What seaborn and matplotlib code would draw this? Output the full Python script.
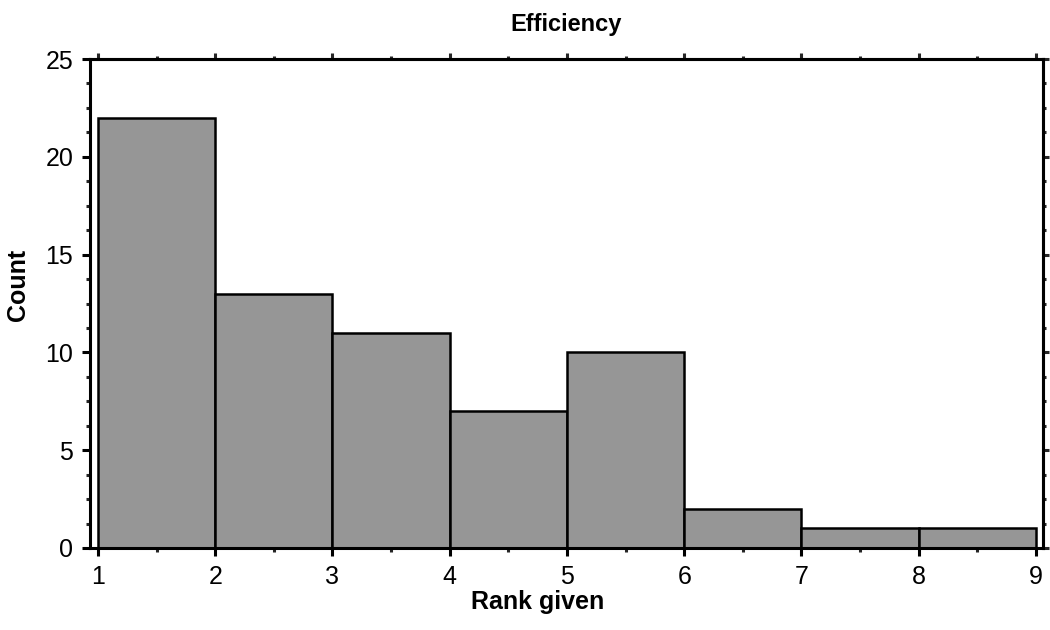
import numpy as np
import pandas as pd
import matplotlib
matplotlib.use("Agg")
import matplotlib.pyplot as plt
import seaborn as sns
from matplotlib.ticker import MultipleLocator

bin_starts = [1, 2, 3, 4, 5, 6, 7, 8]
counts = [22, 13, 11, 7, 10, 2, 1, 1]
bin_edges = [1, 2, 3, 4, 5, 6, 7, 8, 9]
x_ticks = [1, 2, 3, 4, 5, 6, 7, 8, 9]
y_ticks = [0, 5, 10, 15, 20, 25]

sns.set_style("ticks")
plt.rcParams['font.family'] = ['Liberation Sans', 'DejaVu Sans']
plt.rcParams['text.color'] = 'black'
plt.rcParams['axes.labelcolor'] = 'black'

df = pd.DataFrame({"rank": bin_starts, "count": counts})

fig = plt.figure(figsize=(10.5, 6.3), dpi=100)
ax = fig.add_axes([0.0857, 0.1302, 0.9076, 0.7761])

sns.histplot(data=df, x="rank", weights="count", bins=bin_edges, ax=ax,
             color="#969696", edgecolor="black", linewidth=1.8, alpha=1.0)

ax.set_xlim(0.932, 9.06)
ax.set_ylim(0, 25)
ax.set_xticks(x_ticks)
ax.set_yticks(y_ticks)
ax.xaxis.set_minor_locator(MultipleLocator(0.5))
ax.yaxis.set_minor_locator(MultipleLocator(1.25))

for s in ax.spines.values():
    s.set_visible(True)
    s.set_linewidth(2.2)
    s.set_color("black")

ax.tick_params(axis="both", which="major", direction="out", length=6, width=2.2,
               labelsize=18, colors="black", pad=6)
ax.tick_params(axis="both", which="minor", direction="out", length=3, width=2.2)

# top and right ticks (shorter, unlabeled)
secx = ax.secondary_xaxis("top")
secx.set_xticks(x_ticks)
secx.xaxis.set_minor_locator(MultipleLocator(0.5))
secx.tick_params(which="major", direction="out", length=4, width=2.2, labeltop=False)
secx.tick_params(which="minor", direction="out", length=2, width=2.2)
secx.spines["top"].set_linewidth(2.2)
secy = ax.secondary_yaxis("right")
secy.set_yticks(y_ticks)
secy.yaxis.set_minor_locator(MultipleLocator(1.25))
secy.tick_params(which="major", direction="out", length=4, width=2.2, labelright=False)
secy.tick_params(which="minor", direction="out", length=2, width=2.2)
secy.spines["right"].set_linewidth(2.2)

ax.set_title("Efficiency", fontsize=17, fontweight="bold", pad=20, color="black")
ax.set_xlabel("Rank given", fontsize=18, fontweight="bold")
ax.set_ylabel("Count", fontsize=18, fontweight="bold")
ax.xaxis.set_label_coords((538 - 90) / 953, -(602 - 548) / 489, transform=ax.transAxes)
ax.yaxis.set_label_coords(-(90 - 18) / 953, (548 - 285) / 489, transform=ax.transAxes)
ax.xaxis.label.set_va("center")
ax.yaxis.label.set_va("center")

fig.savefig("out.png", dpi=100)
